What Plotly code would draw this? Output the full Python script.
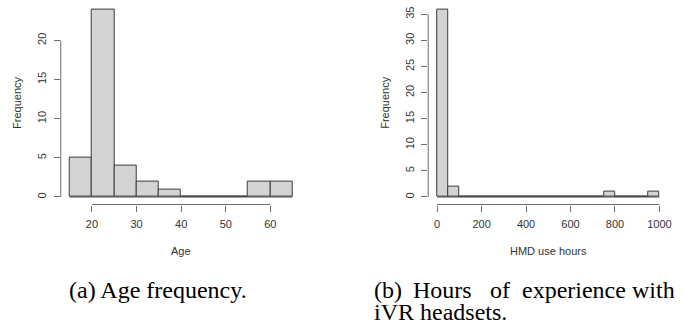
import plotly.graph_objects as go

# ---- data ----
age_edges = [15, 20, 25, 30, 35, 40, 45, 50, 55, 60, 65]
age_counts = [5, 24, 4, 2, 1, 0, 0, 0, 2, 2]
age_xticks = [20, 30, 40, 50, 60]
age_yticks = [0, 5, 10, 15, 20]

hmd_edges = list(range(0, 1001, 50))
hmd_counts = [36, 2, 0, 0, 0, 0, 0, 0, 0, 0, 0, 0, 0, 0, 0, 1, 0, 0, 0, 1]
hmd_xticks = [0, 200, 400, 600, 800, 1000]
hmd_yticks = [0, 5, 10, 15, 20, 25, 30, 35]

W, H = 684, 324
FONT = "Liberation Sans"
SERIF = "Liberation Serif"
TXT = "#333333"
AX = "#6e6e6e"
BAR_FILL = "#d3d3d3"
BAR_LINE = "#3c3c3c"


def px_x(p):
    return p / W


def px_y(p):
    return (H - p) / H


def ext(lo, hi):
    d = (hi - lo) * 0.04
    return [lo - d, hi + d]


fig = go.Figure()

panels = [
    ("x", "y", age_edges, age_counts, age_xticks, age_yticks, (61.0, 302.9), "Age", 17.0),
    ("x2", "y2", hmd_edges, hmd_counts, hmd_xticks, hmd_yticks, (430.1, 671.3), "HMD use hours", 386.5),
]
ydom = [px_y(204.5), px_y(1.6)]

shapes = []
annotations = []
for i, (xa, ya, edges, counts, xt, yt, (l, r), xlabel, ylab_x) in enumerate(panels):
    centers = [(edges[k] + edges[k + 1]) / 2 for k in range(len(counts))]
    widths = [edges[k + 1] - edges[k] for k in range(len(counts))]
    fig.add_trace(go.Scatter(x=[edges[0], edges[-1]], y=[0, 0], mode="lines",
                             line=dict(color=BAR_LINE, width=1), xaxis=xa, yaxis=ya,
                             showlegend=False, hoverinfo="skip"))
    fig.add_trace(go.Bar(x=centers, y=counts, width=widths, xaxis=xa, yaxis=ya,
                         marker=dict(color=BAR_FILL, line=dict(color=BAR_LINE, width=1)),
                         showlegend=False))
    sfx = "" if i == 0 else "2"
    axis_common = dict(showgrid=False, zeroline=False, showline=False, ticks="outside",
                       ticklen=6, tickwidth=1, tickcolor=AX,
                       tickfont=dict(family=FONT, size=11, color=TXT))
    fig.update_layout(**{
        "xaxis" + sfx: dict(axis_common, domain=[px_x(l), px_x(r)], range=ext(edges[0], edges[-1]),
                            tickvals=xt, anchor="y" + sfx, ticklabelstandoff=3),
        "yaxis" + sfx: dict(axis_common, domain=ydom, range=ext(0, max(counts)),
                            tickvals=yt, tickangle=-90, anchor="x" + sfx, ticklabelstandoff=3),
    })
    # R-style axis lines spanning first to last tick
    shapes.append(dict(type="line", xref=xa, yref=ya + " domain", x0=xt[0], x1=xt[-1], y0=0, y1=0,
                       line=dict(color=AX, width=1)))
    shapes.append(dict(type="line", xref=xa + " domain", yref=ya, x0=0, x1=0, y0=yt[0], y1=yt[-1],
                       line=dict(color=AX, width=1)))
    annotations.append(dict(text=xlabel, xref="paper", yref="paper", x=px_x((l + r) / 2), y=px_y(250.5),
                            showarrow=False, xanchor="center", yanchor="middle",
                            font=dict(family=FONT, size=11, color=TXT)))
    annotations.append(dict(text="Frequency", xref="paper", yref="paper", x=px_x(ylab_x), y=px_y(103),
                            showarrow=False, textangle=-90, xanchor="center", yanchor="middle",
                            font=dict(family=FONT, size=11, color=TXT)))

cap_font = dict(family=SERIF, size=24, color="#000000")
captions = [
    ("(a) Age frequency.", 67, 290, "left"),
    ("(b)", 374, 290, "left"),
    ("Hours", 413, 290, "left"),
    ("of", 490, 290, "left"),
    ("experience", 522, 290, "left"),
    ("with", 680, 290, "right"),
    ("iVR headsets.", 374, 312, "left"),
]
for t, x, y, xa in captions:
    annotations.append(dict(text=t, xref="paper", yref="paper", x=px_x(x), y=px_y(y),
                            showarrow=False, xanchor=xa, yanchor="middle", font=cap_font))

fig.update_layout(width=W, height=H, margin=dict(l=0, r=0, t=0, b=0),
                  paper_bgcolor="white", plot_bgcolor="white", bargap=0,
                  shapes=shapes, annotations=annotations)

fig.write_html("out.html")
